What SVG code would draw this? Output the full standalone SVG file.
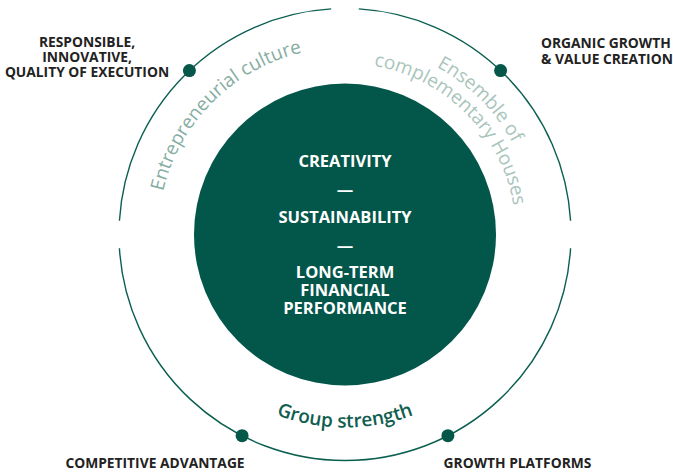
<svg xmlns="http://www.w3.org/2000/svg" xmlns:xlink="http://www.w3.org/1999/xlink" width="673" height="474" viewBox="0 0 673 474">
  <style>
    .ring { fill: none; stroke: #0b5f50; stroke-width: 1.4; }
    .dot { fill: #05574a; }
    .lbl { font-family: "Open Sans", "Liberation Sans", sans-serif; font-weight: 700; font-size: 13.8px; fill: #222222; }
    .core { font-family: "Open Sans", "Liberation Sans", sans-serif; font-weight: 700; font-size: 16.5px; fill: #ffffff; text-anchor: middle; }
    .arc { font-family: "Open Sans", "Liberation Sans", sans-serif; font-size: 19px; }
  </style>
  <defs>
    <path id="pEntre" d="M158,234.5 A187,187 0 0 1 345,47.5"/>
    <path id="pEns1" d="M345,43.5 A191,191 0 0 1 536,234.5"/>
    <path id="pEns2" d="M345,63.5 A171,171 0 0 1 516,234.5"/>
    <path id="pGroup" d="M152,234.5 A193,193 0 0 0 538,234.5"/>
  </defs>
  <rect width="673" height="474" fill="#ffffff"/>

  <g id="connectors">
    <path class="ring" d="M358.8,8.92 A226,226 0 0 1 570.58,220.7"/>
    <path class="ring" d="M570.58,248.3 A226,226 0 0 1 119.42,248.3"/>
    <path class="ring" d="M119.42,220.7 A226,226 0 0 1 331.2,8.92"/>
  </g>

  <g id="core">
    <circle cx="345" cy="234.5" r="151" fill="#03564a"/>
    <text class="core" x="345" y="167">CREATIVITY</text>
    <text class="core" x="345" y="195">—</text>
    <text class="core" x="345" y="223">SUSTAINABILITY</text>
    <text class="core" x="345" y="251">—</text>
    <text class="core" x="345" y="278">LONG-TERM</text>
    <text class="core" x="345" y="296">FINANCIAL</text>
    <text class="core" x="345" y="314">PERFORMANCE</text>
  </g>

  <g id="entrepreneurial-culture">
    <text class="arc" fill="#86ada2"><textPath href="#pEntre" xlink:href="#pEntre" startOffset="50%" text-anchor="middle">Entrepreneurial culture</textPath></text>
  </g>
  <g id="ensemble">
    <text class="arc" fill="#a9c5bc"><textPath href="#pEns1" xlink:href="#pEns1" startOffset="50%" text-anchor="middle">Ensemble of</textPath></text>
    <text class="arc" fill="#a9c5bc"><textPath href="#pEns2" xlink:href="#pEns2" startOffset="50%" text-anchor="middle">complementary Houses</textPath></text>
  </g>
  <g id="group-strength">
    <text class="arc" fill="#0f5e4f" font-weight="600" font-size="19.5"><textPath href="#pGroup" xlink:href="#pGroup" startOffset="50%" text-anchor="middle">Group strength</textPath></text>
  </g>

  <g id="node-responsible">
    <circle class="dot" cx="189.4" cy="70.6" r="6.5"/>
    <text class="lbl" text-anchor="middle"><tspan x="87" y="47">RESPONSIBLE,</tspan><tspan x="87" y="62">INNOVATIVE,</tspan><tspan x="87" y="77">QUALITY OF EXECUTION</tspan></text>
  </g>
  <g id="node-organic">
    <circle class="dot" cx="500.6" cy="70.6" r="6.5"/>
    <text class="lbl" text-anchor="start"><tspan x="541" y="48">ORGANIC GROWTH</tspan><tspan x="541" y="64">&amp; VALUE CREATION</tspan></text>
  </g>
  <g id="node-competitive">
    <circle class="dot" cx="242.1" cy="435.7" r="6.5"/>
    <text class="lbl" text-anchor="middle" x="155" y="468">COMPETITIVE ADVANTAGE</text>
  </g>
  <g id="node-growth">
    <circle class="dot" cx="447.9" cy="435.7" r="6.5"/>
    <text class="lbl" text-anchor="middle" x="517.5" y="468">GROWTH PLATFORMS</text>
  </g>
</svg>
